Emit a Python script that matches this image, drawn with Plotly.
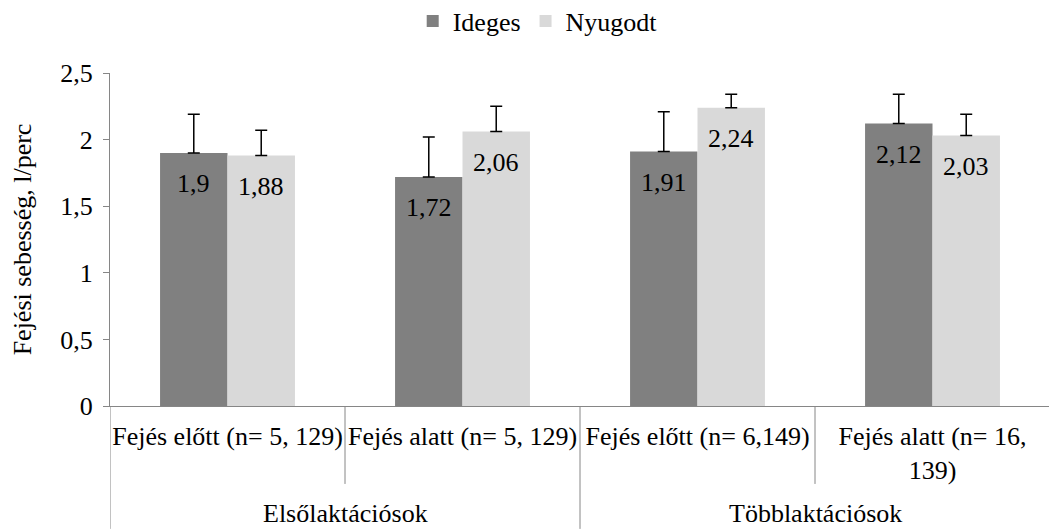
"""Fejési sebesség: ideges vs. nyugodt tehenek, laktáció és fejési szakasz szerint."""

import plotly.graph_objects as go

categories = [
    "Fejés előtt (n= 5, 129)",
    "Fejés alatt (n= 5, 129)",
    "Fejés előtt (n= 6,149)",
    "Fejés alatt (n= 16,<br>139)",
]
groups = ["Elsőlaktációsok", "Többlaktációsok"]

ideges = [1.9, 1.72, 1.91, 2.12]
ideges_err = [0.29, 0.30, 0.30, 0.22]
nyugodt = [1.88, 2.06, 2.24, 2.03]
nyugodt_err = [0.19, 0.19, 0.10, 0.16]

FONT = "Liberation Serif"
FS = 26
AXIS_GREY = "#868686"
BAR_HALF = 33.8  # px, half of one bar's width


def label(v):
    return f"{v:g}".replace(".", ",")


fig = go.Figure()
series = [
    ("Ideges", ideges, ideges_err, "#808080", -1),
    ("Nyugodt", nyugodt, nyugodt_err, "#d9d9d9", 1),
]
for name, vals, errs, color, side in series:
    fig.add_trace(
        go.Bar(
            name=name,
            x=categories,
            y=vals,
            marker=dict(color=color, line=dict(width=0)),
            error_y=dict(
                type="data",
                symmetric=False,
                array=errs,
                arrayminus=[0] * len(errs),
                color="black",
                thickness=1.5,
                width=6,
            ),
        )
    )
    # value labels just inside the bar tops
    for cat, v in zip(categories, vals):
        fig.add_annotation(
            x=cat, y=v, xref="x", yref="y", text=label(v), showarrow=False,
            xshift=side * BAR_HALF, yshift=-31, yanchor="middle",
            font=dict(family=FONT, size=FS, color="black"),
        )

# divider lines below the axis (full between groups, short between sub-labels)
for x0, y1 in [(-0.5, -0.369), (1.5, -0.369), (3.5, -0.369), (0.5, -0.234), (2.5, -0.234)]:
    fig.add_shape(
        type="line", xref="x", yref="paper", x0=x0, x1=x0, y0=0, y1=y1,
        line=dict(color=AXIS_GREY, width=1),
    )

for i, g in enumerate(groups):
    fig.add_annotation(
        x=0.5 + 2 * i, y=-0.324, xref="x", yref="paper", text=g,
        showarrow=False, yanchor="middle",
        font=dict(family=FONT, size=FS, color="black"),
    )

# page body adds an 8px offset, so the figure is 8px smaller than the window
fig.update_layout(
    template="plotly_white",
    width=1049,
    height=521,
    margin=dict(l=102, r=7, t=65, b=123, autoexpand=False),
    barmode="group",
    bargap=0.426,
    bargroupgap=0,
    separators=", ",
    font=dict(family=FONT, size=FS, color="black"),
    legend=dict(
        orientation="h", x=0.455, xanchor="center", y=1.156, yanchor="middle",
        font=dict(family=FONT, size=FS), itemwidth=30, traceorder="normal",
    ),
    xaxis=dict(
        range=[-0.5, 3.5],
        showgrid=False,
        showline=True,
        linecolor=AXIS_GREY,
        ticks="",
        tickangle=0,
        ticklabelstandoff=7,
        tickfont=dict(family=FONT, size=FS, color="black"),
        automargin=False,
    ),
    yaxis=dict(
        title=dict(text="Fejési sebesség, l/perc", font=dict(family=FONT, size=FS), standoff=26),
        range=[0, 2.5],
        dtick=0.5,
        showgrid=False,
        zeroline=False,
        showline=True,
        linecolor=AXIS_GREY,
        ticks="outside",
        ticklen=6,
        tickcolor=AXIS_GREY,
        ticklabelstandoff=5,
        tickfont=dict(family=FONT, size=FS, color="black"),
        automargin=False,
    ),
    plot_bgcolor="white",
    paper_bgcolor="white",
)

fig.write_html("out.html")
